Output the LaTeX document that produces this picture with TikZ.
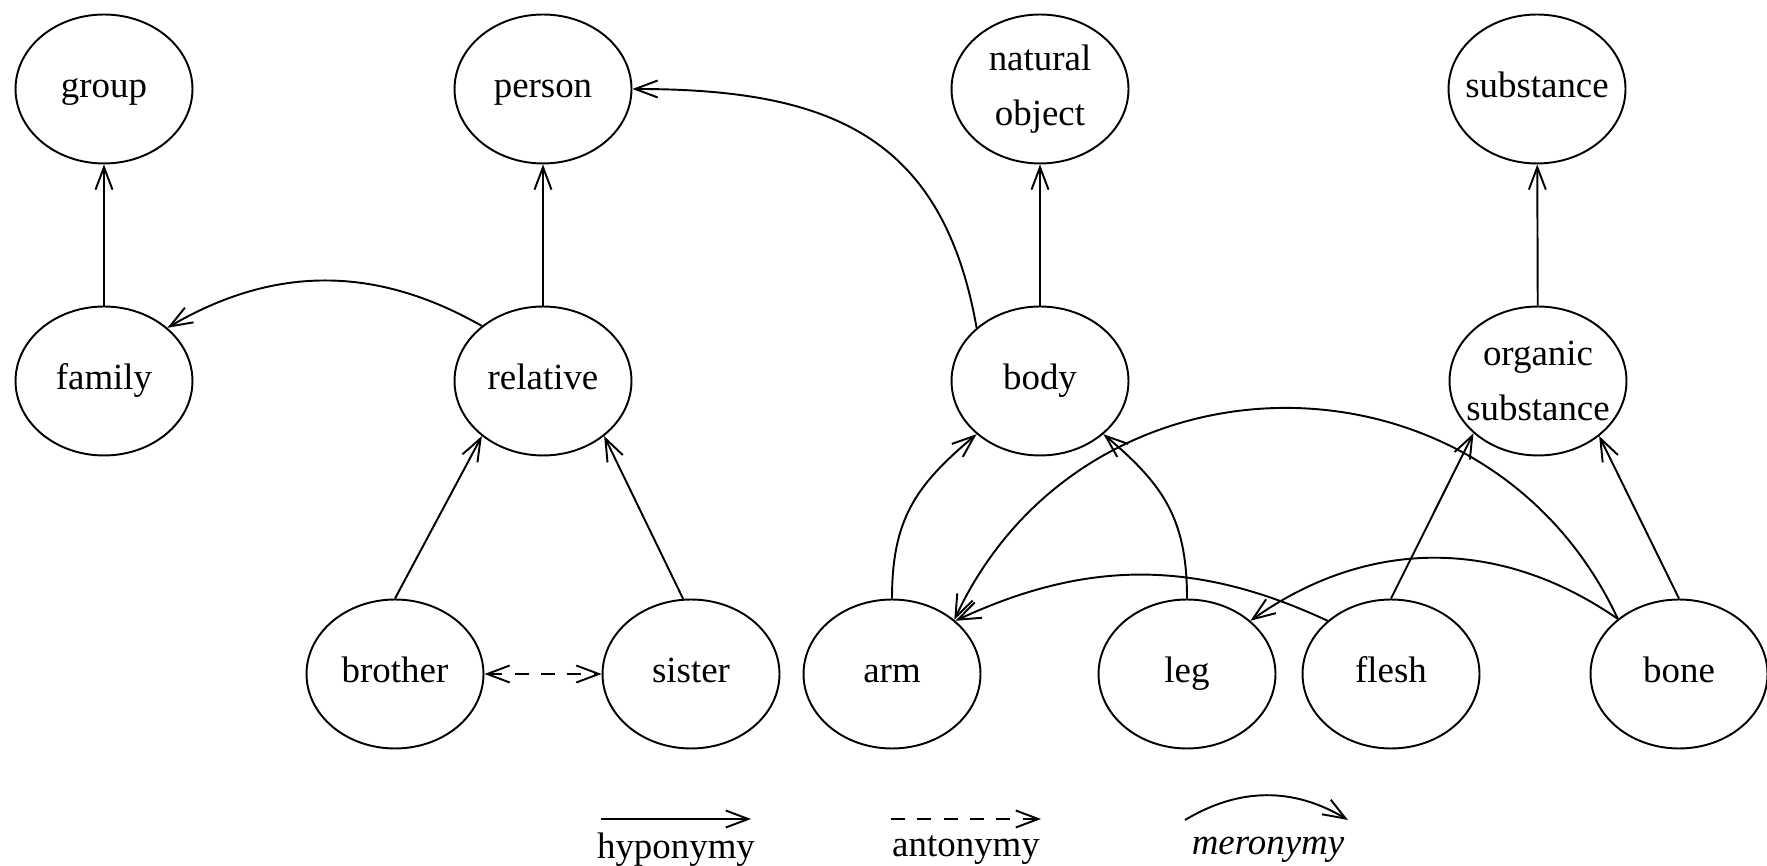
\documentclass[tikz,border=0pt]{standalone}
\usepackage{fontspec}
\setmainfont{Liberation Serif}
\usepackage{tikz}
\usetikzlibrary{shapes.geometric}
\usetikzlibrary{arrows.meta}

\begin{document}
\begin{tikzpicture}[x=0.02cm, y=0.02cm,
  font=\fontsize{21}{31}\selectfont,
  concept/.style={draw, ellipse, line width=1.1pt, minimum width=3.54cm, minimum height=2.98cm,
    inner xsep=-0.5cm, inner ysep=-0.15cm, align=center},
  word/.style={concept, text height=15pt, text depth=5pt},
  hypo/.style={line width=1.1pt, -{Straight Barb[length=4.5mm, width=3.4mm]}},
  anto/.style={line width=1.1pt, dash pattern=on 8pt off 7pt,
    {Straight Barb[length=4.5mm, width=3.4mm]}-{Straight Barb[length=4.5mm, width=3.4mm]}},
  mero/.style={hypo}]
\useasboundingbox (0,0) rectangle (1767,865);
% top row
\node[word] (group) at (104,776) {group};
\node[word] (person) at (543,776) {person};
\node[concept] (natobj) at (1040,776) {natural\\object};
\node[word] (substance) at (1537,776) {substance};
% middle row
\node[word] (family) at (104,484) {family};
\node[word] (relative) at (543,484) {relative};
\node[word] (body) at (1040,484) {body};
\node[concept] (organic) at (1538,484) {organic\\substance};
% bottom row
\node[word] (brother) at (395,191) {brother};
\node[word] (sister) at (691,191) {sister};
\node[word] (arm) at (892,191) {arm};
\node[word] (leg) at (1187,191) {leg};
\node[word] (flesh) at (1391,191) {flesh};
\node[word] (bone) at (1679,191) {bone};
% hyponymy
\draw[hypo] (family) -- (group);
\draw[hypo] (relative) -- (person);
\draw[hypo] (body) -- (natobj);
\draw[hypo] (organic) -- (substance);
\draw[hypo] (brother.north) -- (relative.222);
\draw[hypo] (sister.96) -- (relative.318);
\draw[hypo] (flesh.north) -- (organic.219);
\draw[hypo] (bone.north) -- (organic.318);
% antonymy
\draw[anto] (brother) -- (sister);
% meronymy
\draw[mero] (relative.138) to[bend right=30] (family.40);
\draw[mero] (body.140) to[out=100, in=0, looseness=1.2] (person.east);
\draw[mero] (arm.north) to[out=90, in=220, looseness=1.1] (body.220);
\draw[mero] (leg.north) to[out=90, in=-40, looseness=1.1] (body.320);
\draw[mero] (flesh.140) to[bend right=25] (arm.40);
\draw[mero] (bone.138) to[out=115, in=65, looseness=1.2] (arm.41);
\draw[mero] (bone.138) to[bend right=35] (leg.40);
% legend
\node (hyp) at (676,15) {hyponymy};
\node (ant) at (966,15) {antonymy};
\node (mer) at (1268,15) {\textit{meronymy}};
\coordinate (hyp1) at (601,46);
\coordinate (hyp2) at (751,46);
\coordinate (ant1) at (891,46);
\coordinate (ant2) at (1041,46);
\coordinate (mer1) at (1185,45);
\coordinate (mer2) at (1348,45);
\draw[hypo] (hyp1) -- (hyp2);
\draw[hypo, dash pattern=on 8pt off 7pt] (ant1) -- (ant2);
\draw[mero] (mer1) to[bend left=31] (mer2);
\end{tikzpicture}
\end{document}
